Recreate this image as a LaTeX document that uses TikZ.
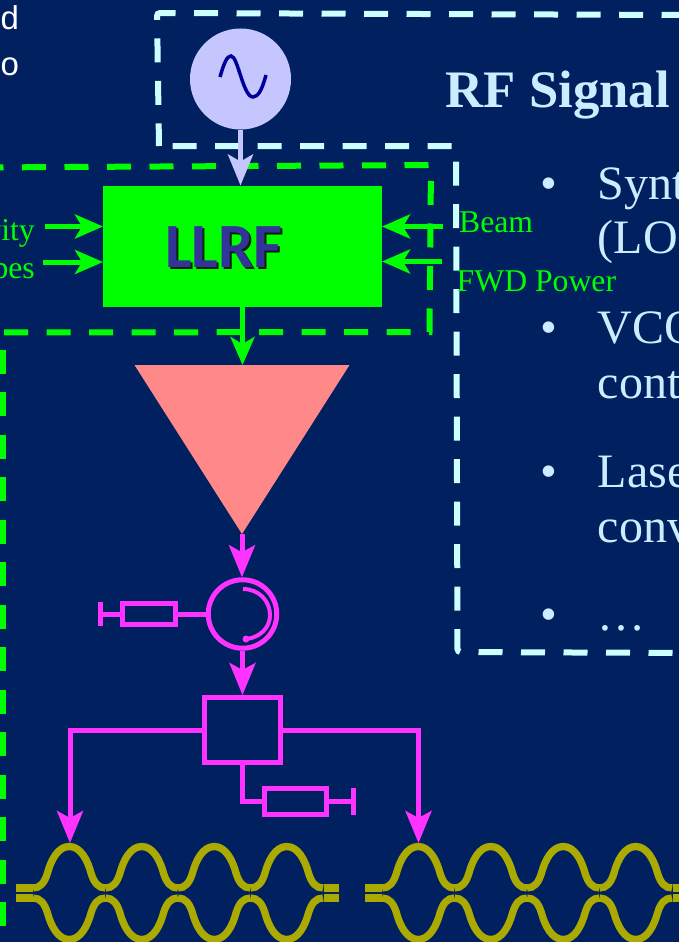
\documentclass[tikz,border=0pt]{standalone}
\usepackage{fontspec}
\setmainfont{Liberation Serif}
\newfontfamily\llrffont{Carlito}
\newfontfamily\notefont{Liberation Sans}
\usetikzlibrary{arrows.meta,positioning,shapes.geometric}
\definecolor{SlideBlue}{RGB}{0,32,96}
\definecolor{PaleCyan}{RGB}{204,255,255}
\definecolor{PaleText}{RGB}{204,236,255}
\definecolor{Lavender}{RGB}{198,198,255}
\definecolor{SineBlue}{RGB}{0,0,153}
\definecolor{PureGreen}{RGB}{0,255,0}
\definecolor{Magenta}{RGB}{255,51,255}
\definecolor{Salmon}{RGB}{255,136,136}
\definecolor{Olive}{RGB}{170,170,0}
\definecolor{LabelIndigo}{RGB}{51,51,153}
\tikzset{
  palebox/.style={draw=PaleCyan,line width=6pt,dash pattern=on 24pt off 18.5pt},
  greenbox/.style={draw=PureGreen,line width=6pt,dash pattern=on 24pt off 18.5pt},
  larr/.style={-{Stealth[length=31pt,width=25pt,inset=7pt]},Lavender,line width=5pt},
  garr/.style={-{Stealth[length=28pt,width=24pt,inset=7pt]},PureGreen,line width=5pt},
  marr/.style={-{Stealth[length=32pt,width=26pt,inset=7pt]},Magenta,line width=5pt},
  mline/.style={draw=Magenta,line width=5pt},
  cavline/.style={draw=Olive,line width=7.3pt},
  gtext/.style={text=PureGreen,inner sep=0pt,font=\fontsize{31.7}{31.7}\selectfont},
  ptext/.style={text=PaleText,inner sep=0pt,anchor=base west,font=\fontsize{48}{48}\selectfont},
}
\begin{document}
\begin{tikzpicture}[
  x=1pt, y=-1pt,
  load/.style={rectangle, mline, inner sep=0pt},
]
\clip[use as bounding box] (0,0) rectangle (679,942);
\fill[SlideBlue] (0,0) rectangle (679,942);

% dashed frames
\draw[palebox,rounded corners=3pt] (685.5,15) -- (157,13) -- (159,146);
\draw[palebox,rounded corners=3pt] (172.7,146) -- (456,146) -- (457.5,652) -- (690,653);
\draw[greenbox] (-20.5,167.5) -- (431,165) -- (429.5,332) -- (-10,332.5);
\draw[greenbox] (2.5,349.5) -- (2.5,950);

% text on the slide
\node[text=white,inner sep=0pt,anchor=base west,font=\notefont\fontsize{33}{33}\selectfont] (noted) at (0.5,30) {d};
\node[text=white,inner sep=0pt,anchor=base west,font=\notefont\fontsize{33}{33}\selectfont] (noteo) at (0.5,75) {o};
\node[ptext,font=\bfseries\fontsize{52.7}{52.7}\selectfont] (title) at (445.5,107) {RF Signal};
\node[ptext] (b1) at (540,199) {•};
\node[ptext] (t1) at (597.5,199) {Synt};
\node[ptext] (t1b) at (597.5,253) {(LO};
\node[ptext] (b2) at (540,343) {•};
\node[ptext] (t2) at (597.5,343) {VCO};
\node[ptext] (t2b) at (597.5,398) {cont};
\node[ptext] (b3) at (540,487) {•};
\node[ptext] (t3) at (597.5,487) {Lase};
\node[ptext] (t3b) at (597.5,542) {conv};
\node[ptext] (b4) at (540,630) {•};
\node[ptext] (t4) at (597.5,630) {…};

% source and LLRF
\node[circle,fill=Lavender,minimum size=101pt,inner sep=0pt,outer sep=0pt] (src) at (240.5,79) {};
\draw[SineBlue,line width=3.5pt] (220,77) .. controls (224,63) and (227,56) .. (231,56)
  .. controls (238,56) and (243,97) .. (253,97) .. controls (258,97) and (262,90) .. (266,75);
\node[rectangle,fill=PureGreen,minimum width=279pt,minimum height=121.5pt,inner sep=0pt,outer sep=0pt] (llrf) at (242.5,246.25) {};
\node[text=black!85!green,anchor=base,inner sep=0pt,font=\llrffont\bfseries\fontsize{63}{63}\selectfont] (llrfsh) at (226,269) {LLRF};
\node[text=LabelIndigo,anchor=base,inner sep=0pt,font=\llrffont\bfseries\fontsize{63}{63}\selectfont] (llrflab) at (224,267) {LLRF};
\draw[larr] (src.south) -- (src.south |- llrf.north);

% LLRF inputs
\coordinate (cavin) at (45,226.5);
\coordinate (probein) at (43,262);
\coordinate (beamin) at (443,226.5);
\coordinate (fwdin) at (442,261.5);
\node[gtext,anchor=base east] (cavlab) at (35,240) {vity};
\node[gtext,anchor=base east] (probelab) at (35,278) {bes};
\node[gtext,anchor=base west] (beamlab) at (459,232) {Beam};
\node[gtext,anchor=base west] (fwdlab) at (456.5,291) {FWD Power};
\draw[garr] (cavin) -- (cavin -| llrf.west);
\draw[garr] (probein) -- (probein -| llrf.west);
\draw[garr] (beamin) -- (beamin -| llrf.east);
\draw[garr] (fwdin) -- (fwdin -| llrf.east);

% amplifier and circulator
\node[isosceles triangle,isosceles triangle stretches,shape border rotate=-90,fill=Salmon,
  minimum width=215pt,minimum height=169pt,inner sep=0pt,outer sep=0pt,anchor=apex] (amp) at (242,534) {};
\draw[garr] (llrf.south) -- (llrf.south |- amp.lower side);
\node[circle,mline,minimum size=68.5pt,inner sep=0pt] (circ) at (242.5,614) {};
\draw[marr] (amp.apex) -- (amp.apex |- circ.north);
\draw[Magenta,line width=4pt] (243,589) .. controls (259,589) and (270,601) .. (270,615)
  .. controls (270,628) and (260,637) .. (247,639);
\fill[Magenta] (246,639) circle (3.5);
\node[load,minimum width=53.5pt,minimum height=21.5pt] (load1) at (149,614) {};
\coordinate (end1) at (100.5,614);
\draw[mline] (circ.west) -- (load1.east);
\draw[mline] (load1.west) -- (end1);
\draw[mline,line width=5pt] (end1) ++(0,-12) -- ++(0,24);

% splitter
\node[rectangle,mline,minimum width=76pt,minimum height=65pt,inner sep=0pt] (spl) at (242.5,730) {};
\draw[marr] (circ.south) -- (circ.south |- spl.north);
\coordinate (cav1top) at (70,843);
\coordinate (cav2top) at (418.5,843);
\draw[marr] (spl.west) -| (cav1top);
\draw[marr] (spl.east) -| (cav2top);
\node[load,minimum width=62pt,minimum height=26pt] (load2) at (295.5,801.5) {};
\coordinate (end2) at (353.5,801.5);
\draw[mline] (spl.south) |- (load2.west);
\draw[mline] (load2.east) -- (end2);
\draw[mline,line width=5pt] (end2) ++(0,-13.5) -- ++(0,27);

% cavities
\foreach \dx in {0,349}{
  \foreach \dy/\ys in {0/1,1786/-1}{
    \draw[cavline,shift={(\dx,\dy)},yscale=\ys] (16,888) -- (33,888);
    \draw[cavline,shift={(\dx,\dy)},yscale=\ys] (324,888) -- (339,888);
    \foreach \ax in {33,105.5,178,250.5}{
      \draw[cavline,shift={(\dx+\ax,\dy)},yscale=\ys] (0,888) .. controls (7,888) and (11.5,883) .. (14.5,873)
        .. controls (18,860) and (25,846.5) .. (36.25,846.5) .. controls (47.5,846.5) and (54.5,860) .. (58,873)
        .. controls (61,883) and (65.5,888) .. (72.5,888);
    }
  }
}
\end{tikzpicture}
\end{document}
